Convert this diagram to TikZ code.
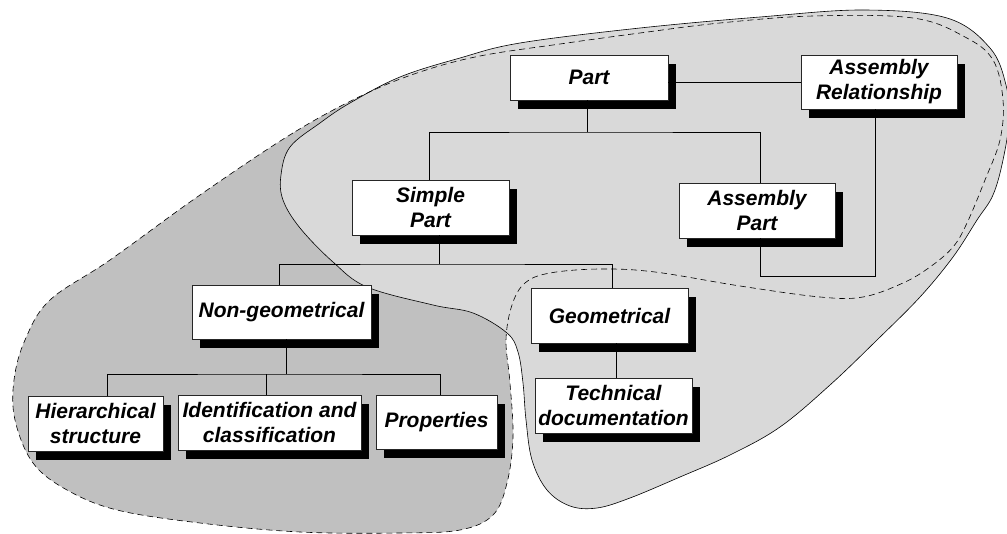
\documentclass[tikz,border=0pt]{standalone}
\usepackage{fontspec}
\setmainfont{Liberation Sans}
\usetikzlibrary{shadows}
\definecolor{lightreg}{RGB}{217,217,217}
\definecolor{darkreg}{RGB}{192,192,192}
\begin{document}
\begin{tikzpicture}[x=1pt,y=-1pt,
  box/.style={draw=black!85, line width=0.6pt, fill=white, inner sep=0pt, align=center,
    font=\fontsize{21pt}{25pt}\selectfont\bfseries\itshape,
    drop shadow={shadow xshift=8pt,shadow yshift=-9pt,fill=black,opacity=1}},
  wh/.style 2 args={minimum width=#1pt, minimum height=#2pt},
  conn/.style={draw=black, line width=0.8pt},
  blobline/.style={draw=black, line width=0.6pt},
  dashline/.style={draw=black, line width=0.6pt, dash pattern=on 6pt off 4pt}]
\useasboundingbox (0,0) rectangle (1007,534);
% dashed region (dark fill)
\fill[darkreg] plot[smooth cycle, tension=0.6] coordinates {
 (363,95) (293,133) (200,195) (110,260) (50,300) (25,340) (14,380) (15,420) (33,463)
 (67,490) (117,510) (200,523) (300,532) (400,533) (460,530) (493,515) (507,483)
 (513,437) (510,383) (506,340) (512,305) (525,283) (550,273) (600,269) (655,272)
 (740,286) (820,297) (863,297) (903,283) (930,267) (953,247) (967,223) (985,180)
 (1000,140) (1003,100) (993,60) (965,37) (913,18) (813,16) (720,23) (640,33)
 (560,44) (480,56) (420,72)};
% solid region (light fill)
\filldraw[lightreg, blobline] plot[smooth cycle, tension=0.6] coordinates {
 (520,43) (640,28) (760,17) (863,10) (947,18) (990,48) (1006,85) (1009,120)
 (1003,160) (993,195) (977,220) (953,257) (920,297) (877,340) (830,385) (780,427)
 (730,455) (680,477) (630,498) (597,508) (570,506) (547,490) (532,460) (526,420)
 (523,383) (518,352) (507,333) (473,313) (433,305) (367,287) (333,262) (300,228)
 (283,200) (281,175) (290,147) (320,123) (350,103) (400,77) (460,58)};
% dashed outline
\draw[dashline] plot[smooth cycle, tension=0.6] coordinates {
 (363,95) (293,133) (200,195) (110,260) (50,300) (25,340) (14,380) (15,420) (33,463)
 (67,490) (117,510) (200,523) (300,532) (400,533) (460,530) (493,515) (507,483)
 (513,437) (510,383) (506,340) (512,305) (525,283) (550,273) (600,269) (655,272)
 (740,286) (820,297) (863,297) (903,283) (930,267) (953,247) (967,223) (985,180)
 (1000,140) (1003,100) (993,60) (965,37) (913,18) (813,16) (720,23) (640,33)
 (560,44) (480,56) (420,72)};
% nodes
\node[box, wh={158}{45}] (part) at (589,77.5) {Part};
\node[box, wh={156}{54}] (ar) at (879,82) {Assembly\\Relationship};
\node[box, wh={157}{55}] (sp) at (430.5,207.5) {Simple\\Part};
\node[box, wh={156}{55}] (ap) at (757,210.5) {Assembly\\Part};
\node[box, wh={179}{54}] (ng) at (281.5,312) {Non-geometrical};
\node[box, wh={135}{55}] (hs) at (95.5,423.5) {Hierarchical\\structure};
\node[box, wh={183}{55}] (ic) at (269.5,422.5) {Identification and\\classification};
\node[box, wh={121}{54}] (pr) at (436.5,422) {Properties};
\node[box, wh={157}{55}] (ge) at (609.5,315.5) {Geometrical};
\node[box, wh={157}{55}] (td) at (613.5,405.5) {Technical\\documentation};
% junction points
\coordinate (b1) at (587,132);
\coordinate (b2) at (439,264);
\coordinate (b3) at (286,374);
% connectors
\draw[conn] (part.east |- ar.west) -- (ar.west);
\draw[conn] (part.south -| b1) -- (b1);
\draw[conn] ([xshift=-1.5pt]sp.north) |- (b1) -| ([xshift=3pt]ap.north);
\draw[conn] ([xshift=3pt]ap.south) -- ++(0,38) -| ([xshift=-4pt]ar.south);
\draw[conn] (sp.south -| b2) -- (b2);
\draw[conn] ([xshift=-2.5pt]ng.north) |- (b2) -| ([xshift=2.5pt]ge.north);
\draw[conn] (ng.south -| b3) -- (b3);
\draw[conn] ([xshift=11.5pt]hs.north) |- (b3) -| ([xshift=3.5pt]pr.north);
\draw[conn] ([xshift=-3.5pt]ic.north) -- ([xshift=-3.5pt]ic.north |- b3);
\draw[conn] ([xshift=2.5pt]td.north) -- ([xshift=2.5pt]td.north |- ge.south);
\end{tikzpicture}
\end{document}
